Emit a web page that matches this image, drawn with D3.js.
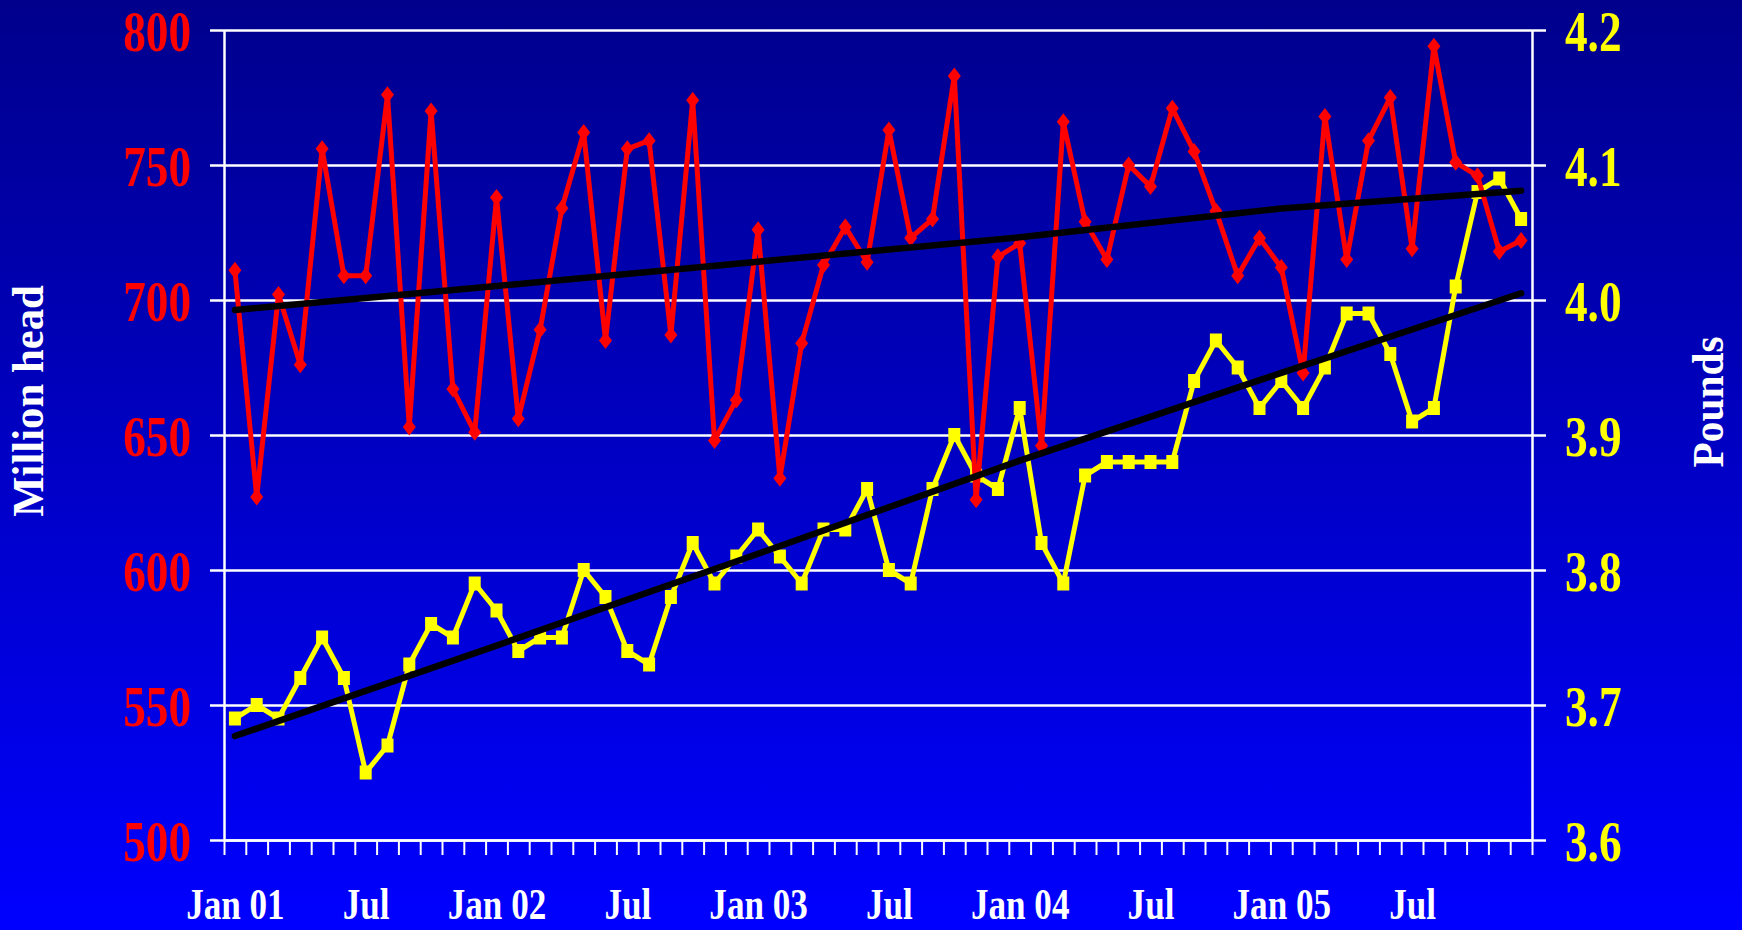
<!DOCTYPE html>
<html>
<head>
	<meta charset="utf-8">
	<title>Million head and Pounds, Jan 01 - Dec 05</title>
	<style>
body {
  margin: 0;
  background-color: #0000ff;
}

svg {
  display: block;
}
	</style>
</head>
<body>

	<div id="chart"></div>

	<script src="https://d3js.org/d3.v7.min.js"></script>

	<script>
// Monthly values, Jan 01 to Dec 05 (60 months)
var headValues = [711, 627, 702, 676, 756, 709, 709, 776, 653, 770, 667, 651,
  738, 656, 689, 734, 762, 685, 756, 759, 687, 774, 648, 663,
  726, 634, 684, 713, 727, 714, 763, 723, 730, 783, 626, 716,
  721, 646, 766, 729, 715, 750, 742, 771, 755, 733, 709, 723,
  712, 673, 768, 715, 759, 775, 719, 794, 751, 746, 718, 722];

var poundValues = [3.69, 3.70, 3.69, 3.72, 3.75, 3.72, 3.65, 3.67, 3.73, 3.76, 3.75, 3.79,
  3.77, 3.74, 3.75, 3.75, 3.80, 3.78, 3.74, 3.73, 3.78, 3.82, 3.79, 3.81,
  3.83, 3.81, 3.79, 3.83, 3.83, 3.86, 3.80, 3.79, 3.86, 3.90, 3.87, 3.86,
  3.92, 3.82, 3.79, 3.87, 3.88, 3.88, 3.88, 3.88, 3.94, 3.97, 3.95, 3.92,
  3.94, 3.92, 3.95, 3.99, 3.99, 3.96, 3.91, 3.92, 4.01, 4.08, 4.09, 4.06];

// trend lines, read at a few months
var trendMonths = [0, 12, 24, 36, 48, 59];
var headTrend = [696.3, 705.2, 714.2, 723.2, 733.9, 740.5];
var poundTrend = [3.677, 3.744, 3.812, 3.881, 3.946, 4.005];

var tickMonths = [0, 6, 12, 18, 24, 30, 36, 42, 48, 54];
var tickLabels = ["Jan 01", "Jul", "Jan 02", "Jul", "Jan 03", "Jul", "Jan 04", "Jul", "Jan 05", "Jul"];
var headTicks = [500, 550, 600, 650, 700, 750, 800];
var poundTicks = [3.6, 3.7, 3.8, 3.9, 4.0, 4.1, 4.2];

var margin = {top: 30, right: 210, bottom: 90, left: 224},
  totalW = 1742,
  totalH = 930,
  width = totalW - margin.left - margin.right,
  height = totalH - margin.top - margin.bottom;

var fontFamily = "'Liberation Serif', 'Times New Roman', serif";

var root = d3.select("#chart")
  .append("svg")
  .attr("width", totalW)
  .attr("height", totalH);

// background gradient, dark navy on top to bright blue at the bottom
var grad = root.append("defs").append("linearGradient")
  .attr("id", "bg")
  .attr("x1", 0).attr("y1", 0).attr("x2", 0).attr("y2", 1);
grad.append("stop").attr("offset", "0%").attr("stop-color", "#00008c");
grad.append("stop").attr("offset", "100%").attr("stop-color", "#0000ff");

root.append("rect")
  .attr("width", totalW)
  .attr("height", totalH)
  .attr("fill", "url(#bg)");

var svg = root.append("g")
  .attr("transform", "translate(" + margin.left + "," + margin.top + ")");

var x = d3.scaleLinear().domain([0, 60]).range([0, width]);
var yLeft = d3.scaleLinear().domain([500, 800]).range([height, 0]);
var yRight = d3.scaleLinear().domain([3.6, 4.2]).range([height, 0]);

// horizontal gridlines (they run past both axes like tick marks)
var grid = svg.append("g")
  .attr("transform", "translate(-14,0)")
  .call(d3.axisRight(yLeft).tickValues(headTicks).tickSize(width + 28).tickFormat(""));
grid.select(".domain").remove();
grid.selectAll("line").attr("stroke", "#fff").attr("stroke-width", 2.5);

// left axis
var left = svg.append("g")
  .call(d3.axisLeft(yLeft).tickValues(headTicks).tickSize(0).tickSizeOuter(0));
left.select(".domain").attr("stroke", "#fff").attr("stroke-width", 2.5);
left.selectAll("text")
  .attr("x", 0)
  .attr("dy", "0.35em")
  .attr("transform", "translate(-33,0) scale(0.78,1)")
  .attr("fill", "#ff0000")
  .style("font-family", fontFamily)
  .style("font-weight", "bold")
  .style("font-size", "58px");

// right axis
var right = svg.append("g")
  .attr("transform", "translate(" + width + ",0)")
  .call(d3.axisRight(yRight).tickValues(poundTicks).tickSize(0).tickSizeOuter(0).tickFormat(d3.format(".1f")));
right.select(".domain").attr("stroke", "#fff").attr("stroke-width", 2.5);
right.selectAll("text")
  .attr("x", 0)
  .attr("dy", "0.35em")
  .attr("transform", "translate(33,0) scale(0.78,1)")
  .attr("fill", "#ffff00")
  .style("font-family", fontFamily)
  .style("font-weight", "bold")
  .style("font-size", "58px");

// month ticks along the bottom
var bottom = svg.append("g")
  .attr("transform", "translate(0," + height + ")")
  .call(d3.axisBottom(x).tickValues(d3.range(61)).tickSize(15).tickSizeOuter(0).tickFormat(""));
bottom.select(".domain").attr("stroke", "#fff").attr("stroke-width", 2.5);
bottom.selectAll("line").attr("stroke", "#fff").attr("stroke-width", 2);

// month labels, centred on the month
var labels = svg.append("g")
  .attr("transform", "translate(0," + height + ")")
  .call(d3.axisBottom(x)
    .tickValues(tickMonths.map(function(m) { return m + 0.5; }))
    .tickSize(0)
    .tickFormat(function(d, i) { return tickLabels[i]; }));
labels.select(".domain").remove();
labels.selectAll("text")
  .attr("y", 79)
  .attr("dy", 0)
  .attr("transform", "scale(0.78,1)")
  .attr("fill", "#fff")
  .style("font-family", fontFamily)
  .style("font-weight", "bold")
  .style("font-size", "45px");

// axis titles
root.append("text")
  .attr("transform", "translate(43,401) rotate(-90) scale(0.95,1)")
  .attr("text-anchor", "middle")
  .attr("fill", "#fff")
  .style("font-family", fontFamily)
  .style("font-weight", "bold")
  .style("font-size", "45px")
  .text("Million head");

root.append("text")
  .attr("transform", "translate(1723,402) rotate(-90) scale(0.92,1)")
  .attr("text-anchor", "middle")
  .attr("fill", "#fff")
  .style("font-family", fontFamily)
  .style("font-weight", "bold")
  .style("font-size", "45px")
  .text("Pounds");

var xMid = function(d, i) { return x(i + 0.5); };

// yellow series: pounds
svg.append("path")
  .datum(poundValues)
  .attr("fill", "none")
  .attr("stroke", "#ffff00")
  .attr("stroke-width", 5)
  .attr("stroke-linejoin", "round")
  .attr("d", d3.line().x(xMid).y(function(d) { return yRight(d); }));

svg.append("g").selectAll("rect")
  .data(poundValues)
  .enter().append("rect")
  .attr("x", function(d, i) { return x(i + 0.5) - 6; })
  .attr("y", function(d) { return yRight(d) - 7; })
  .attr("width", 12)
  .attr("height", 14)
  .attr("fill", "#ffff00");

// red series: million head
svg.append("path")
  .datum(headValues)
  .attr("fill", "none")
  .attr("stroke", "#ff0000")
  .attr("stroke-width", 5)
  .attr("stroke-linejoin", "round")
  .attr("d", d3.line().x(xMid).y(function(d) { return yLeft(d); }));

svg.append("g").selectAll("path")
  .data(headValues)
  .enter().append("path")
  .attr("transform", function(d, i) { return "translate(" + x(i + 0.5) + "," + yLeft(d) + ")"; })
  .attr("d", "M0,-8.5L6.5,0L0,8.5L-6.5,0Z")
  .attr("fill", "#ff0000");

// black trend lines
svg.append("path")
  .datum(headTrend)
  .attr("fill", "none")
  .attr("stroke", "#000")
  .attr("stroke-width", 6.5)
  .attr("stroke-linecap", "round")
  .attr("d", d3.line()
    .x(function(d, i) { return x(trendMonths[i] + 0.5); })
    .y(function(d) { return yLeft(d); }));

svg.append("path")
  .datum(poundTrend)
  .attr("fill", "none")
  .attr("stroke", "#000")
  .attr("stroke-width", 6.5)
  .attr("stroke-linecap", "round")
  .attr("d", d3.line()
    .x(function(d, i) { return x(trendMonths[i] + 0.5); })
    .y(function(d) { return yRight(d); }));
	</script>

</body>
</html>
